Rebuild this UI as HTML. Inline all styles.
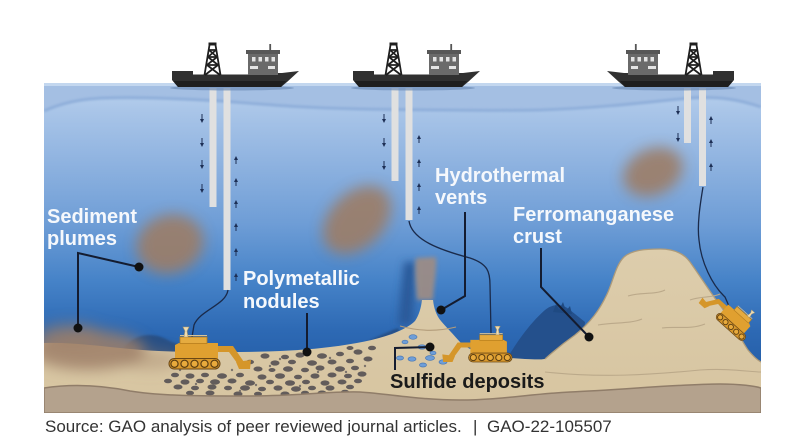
<!DOCTYPE html>
<html><head><meta charset="utf-8"><style>
html,body{margin:0;padding:0;background:#fff;}
svg{display:block;}
</style></head><body>
<svg width="792" height="448" viewBox="0 0 792 448" xmlns="http://www.w3.org/2000/svg">
<defs>
<linearGradient id="wg" gradientUnits="userSpaceOnUse" x1="0" y1="83" x2="0" y2="365">
<stop offset="0" stop-color="#bcd3ee"/>
<stop offset="0.1" stop-color="#a9c5e8"/>
<stop offset="0.28" stop-color="#8fb3e0"/>
<stop offset="0.5" stop-color="#6e9dd6"/>
<stop offset="0.7" stop-color="#4683c8"/>
<stop offset="0.88" stop-color="#2d69b4"/>
<stop offset="1" stop-color="#255fa9"/>
</linearGradient>
<linearGradient id="sg" gradientUnits="userSpaceOnUse" x1="0" y1="250" x2="0" y2="400">
<stop offset="0" stop-color="#ddcdac"/>
<stop offset="1" stop-color="#d7c5a1"/>
</linearGradient>
<filter id="b7" x="-60%" y="-60%" width="220%" height="220%"><feGaussianBlur stdDeviation="7"/></filter>
<filter id="b4" x="-60%" y="-60%" width="220%" height="220%"><feGaussianBlur stdDeviation="4"/></filter>
<filter id="b2" x="-30%" y="-30%" width="160%" height="160%"><feGaussianBlur stdDeviation="2"/></filter>
<filter id="b1" x="-30%" y="-30%" width="160%" height="160%"><feGaussianBlur stdDeviation="1"/></filter>
<clipPath id="pc"><rect x="44" y="80" width="717" height="333"/></clipPath>

<g id="ship">
<ellipse cx="232" cy="88" rx="62" ry="2.5" fill="#6f8fb8" opacity="0.7"/>
<path d="M172,71 L193,71 L193,74.5 L248,74.5 L248,73 L282,73 L299,71 L287,82 L281,87 L178,87 L172,80 Z" fill="#303030"/>
<path d="M173,81 L286,81 L281,87 L178,87 Z" fill="#1e1e1e"/>
<rect x="248" y="53" width="30" height="22" fill="#6a6a6a"/>
<rect x="246" y="50" width="34" height="4" fill="#575757"/>
<rect x="269.3" y="44" width="1.8" height="7" fill="#555"/>
<g fill="#e4e4e4">
<rect x="252" y="57" width="3.5" height="4.5"/><rect x="258.5" y="57" width="3.5" height="4.5"/>
<rect x="265" y="57" width="3.5" height="4.5"/><rect x="271.5" y="57" width="3.5" height="4.5"/>
<rect x="250" y="66" width="8" height="3"/><rect x="268" y="66" width="7" height="3"/>
</g>
<g stroke="#1f1f1f" stroke-width="1.8" fill="none">
<path d="M209.5,45 L204.5,75 M215.5,45 L220.5,75"/>
<path d="M209,50 L216,50 M208,57 L217,57 M207,65 L218,65"/>
<path d="M209,50 L217,57 M216,50 L208,57 M208,57 L218,65 M217,57 L207,65 M207,65 L220,75 M218,65 L205,75"/>
</g>
<rect x="208.5" y="42.5" width="8" height="3" fill="#1f1f1f"/>
</g>

<g id="crawler">
<path d="M46,-23 L64,-23 L77,-4 L71,-2 L60,-17 L46,-17 Z" fill="#d5962a"/>
<path d="M67,-7 L82,-9 L81,0 L70,0 Z" fill="#d5962a"/>
<path d="M6,-10 L6,-24 L10,-26 L49,-26 L49,-10 Z" fill="#e0a030"/>
<rect x="11" y="-32" width="27" height="6.5" fill="#e5ab40" stroke="#b77e1c" stroke-width="0.8"/>
<path d="M11,-33.5 L38,-33.5" stroke="#d8c49a" stroke-width="1"/>
<path d="M14,-42 L20,-42 L18,-38 L19,-32 L15,-32 L16,-38 Z" fill="#ecdcb4" stroke="#b59a66" stroke-width="0.6"/>
<rect x="0" y="-10.5" width="51" height="10.5" rx="5.2" fill="#d8982c" stroke="#6b4816" stroke-width="1"/>
<g fill="#e8aa3c" stroke="#5a3d12" stroke-width="1.2">
<circle cx="5.5" cy="-5.2" r="3.6"/><circle cx="15.5" cy="-5.2" r="3.6"/><circle cx="25.5" cy="-5.2" r="3.6"/>
<circle cx="35.5" cy="-5.2" r="3.6"/><circle cx="45.5" cy="-5.2" r="3.6"/>
</g>
</g>
</defs>

<rect x="0" y="0" width="792" height="448" fill="#fff"/>

<g clip-path="url(#pc)">
<rect x="44" y="83" width="717" height="330" fill="url(#wg)"/>
<path d="M44,83 L761,83 L761,107 C740,100 720,96 690,98 C650,102 600,108 540,110 C480,111 420,110 360,109 C300,108 260,104 220,101 C170,98 120,96 90,99 C70,101 55,106 44,111 Z" fill="#a4bfe3"/>
<path d="M761,107 C740,100 720,96 690,98 C650,102 600,108 540,110 C480,111 420,110 360,109 C300,108 260,104 220,101 C170,98 120,96 90,99 C70,101 55,106 44,111" fill="none" stroke="#8fafda" stroke-width="3" filter="url(#b1)"/>
<rect x="44" y="83" width="717" height="3" fill="#c3d7ef"/>

<g fill="#e0e0e0">
<rect x="209.5" y="88" width="7" height="119"/>
<rect x="223.5" y="88" width="7" height="202"/>
<rect x="391.5" y="88" width="7" height="93"/>
<rect x="405.5" y="88" width="7" height="132"/>
<rect x="684" y="88" width="7" height="55"/>
<rect x="699" y="88" width="7" height="98"/>
</g>

<g fill="#9c7d66" filter="url(#b7)" opacity="0.9">
<ellipse cx="170" cy="244" rx="34" ry="29" transform="rotate(-20 170 244)"/>
<ellipse cx="357" cy="220" rx="40" ry="27" transform="rotate(-45 357 220)"/>
<ellipse cx="653" cy="172" rx="31" ry="23" transform="rotate(-25 653 172)"/>
</g>

<path d="M120,354 C130,335 150,330 168,340 C180,347 200,349 215,350 L215,358 L120,358 Z" fill="#284f86" filter="url(#b1)"/>
<path d="M355,348 C370,340 385,333 398,328 L402,338 L355,350 Z" fill="#284f86" filter="url(#b1)"/>
<path d="M376,345 C382,336 392,332 402,330 L404,345 Z" fill="#2a5592"/>
<path d="M505,362 C515,345 528,325 545,310 C552,304 562,303 570,310 L585,322 L580,365 Z" fill="#24508c"/>
<path d="M553,312 L556,304 L559,310 L563,302 L566,311 L570,306 L572,314 Z" fill="#1f4a82"/>

<path d="M398,325 C400,300 402,280 404,262 L416,262 C415,285 414,305 412,325 Z" fill="#2a5a9a" filter="url(#b4)"/>
<path d="M417,300 C416,285 414,270 416,258 L436,257 C437,270 434,285 433,300 Z" fill="#9b8c86" filter="url(#b2)" opacity="0.95"/>

<path d="M44,343 C70,342 100,346 130,349 C160,352 190,352 220,352 C260,352 300,351 330,347 C355,344 375,340 392,334 C402,330 410,326 415,321 C419,315 421,308 422,300 L433,300 C434,308 436,315 441,321 C447,328 453,334 460,342 C470,352 490,356 510,358 C525,359 538,360 545,359 C555,350 565,342 575,335 C590,323 600,310 608,292 C614,278 616,265 624,257 C632,250 645,249 660,249 C672,249 683,252 690,262 C700,276 710,292 722,308 C732,322 740,338 748,350 C753,356 757,360 761,362 L761,413 L44,413 Z" fill="url(#sg)"/>
<path d="M545,359 C555,350 565,342 575,335 C590,323 600,310 608,292 C614,278 616,265 624,257 C632,250 645,249 660,249 C672,249 683,252 690,262 C700,276 710,292 722,308 C732,322 740,338 748,350 C753,356 757,360 761,362" fill="none" stroke="#ad9b7b" stroke-width="1.3"/>
<g fill="none" stroke="#bba98a" stroke-width="1.1">
<path d="M628,296 C640,292 655,295 665,290"/>
<path d="M690,300 C700,296 712,298 720,294"/>
<path d="M598,325 C615,322 630,324 642,319"/>
<path d="M662,328 C675,326 690,330 705,324"/>
<path d="M545,372 C600,378 650,375 700,370 C730,368 750,372 761,372"/>
<path d="M400,326 Q428,334 456,327" stroke="#b39c7a"/>
</g>

<g fill="#9d7f68" filter="url(#b7)">
<ellipse cx="88" cy="350" rx="58" ry="20" opacity="0.85"/>
<ellipse cx="70" cy="334" rx="32" ry="11" opacity="0.6"/>
<ellipse cx="150" cy="360" rx="30" ry="10" opacity="0.4"/>
</g>

<g fill="#625c5b">
<ellipse cx="265" cy="356" rx="4.5" ry="2.6"/><ellipse cx="285" cy="357" rx="4" ry="2.3"/><ellipse cx="300" cy="355" rx="4.5" ry="2.6"/><ellipse cx="322" cy="356" rx="5" ry="2.7"/><ellipse cx="340" cy="354" rx="4" ry="2.3"/><ellipse cx="358" cy="352" rx="4.5" ry="2.6"/><ellipse cx="372" cy="348" rx="4" ry="2.3"/><ellipse cx="350" cy="348" rx="3.5" ry="2"/>
<ellipse cx="250" cy="362" rx="4" ry="2.3"/><ellipse cx="275" cy="363" rx="4.5" ry="2.6"/><ellipse cx="292" cy="362" rx="4" ry="2.3"/><ellipse cx="312" cy="363" rx="5" ry="2.7"/><ellipse cx="332" cy="362" rx="4.5" ry="2.5"/><ellipse cx="350" cy="361" rx="4" ry="2.3"/><ellipse cx="368" cy="359" rx="4.5" ry="2.5"/>
<ellipse cx="258" cy="369" rx="4.5" ry="2.5"/><ellipse cx="272" cy="370" rx="3.5" ry="2"/><ellipse cx="288" cy="369" rx="5" ry="2.7"/><ellipse cx="305" cy="370" rx="4" ry="2.3"/><ellipse cx="320" cy="368" rx="4.5" ry="2.6"/><ellipse cx="340" cy="369" rx="5" ry="2.7"/><ellipse cx="355" cy="368" rx="4" ry="2.3"/>
<ellipse cx="175" cy="375" rx="4" ry="2.3"/><ellipse cx="190" cy="376" rx="4.5" ry="2.6"/><ellipse cx="205" cy="375" rx="4" ry="2.3"/><ellipse cx="222" cy="376" rx="5" ry="2.7"/><ellipse cx="240" cy="375" rx="4" ry="2.3"/><ellipse cx="262" cy="377" rx="4.5" ry="2.6"/><ellipse cx="280" cy="376" rx="5" ry="2.8"/><ellipse cx="298" cy="377" rx="4" ry="2.3"/><ellipse cx="315" cy="376" rx="4.5" ry="2.6"/><ellipse cx="332" cy="375" rx="4.5" ry="2.5"/><ellipse cx="348" cy="376" rx="4" ry="2.3"/><ellipse cx="362" cy="374" rx="4.5" ry="2.6"/>
<ellipse cx="168" cy="381" rx="4" ry="2.3"/><ellipse cx="185" cy="382" rx="4.5" ry="2.6"/><ellipse cx="200" cy="381" rx="4" ry="2.3"/><ellipse cx="215" cy="382" rx="5" ry="2.7"/><ellipse cx="232" cy="381" rx="4.5" ry="2.5"/><ellipse cx="250" cy="383" rx="5" ry="2.7"/><ellipse cx="270" cy="382" rx="4" ry="2.3"/><ellipse cx="290" cy="383" rx="5" ry="2.8"/><ellipse cx="306" cy="382" rx="4" ry="2.3"/><ellipse cx="325" cy="383" rx="4.5" ry="2.6"/><ellipse cx="342" cy="382" rx="4.5" ry="2.5"/><ellipse cx="358" cy="381" rx="4" ry="2.3"/>
<ellipse cx="178" cy="387" rx="4.5" ry="2.5"/><ellipse cx="195" cy="388" rx="4" ry="2.3"/><ellipse cx="212" cy="387" rx="4.5" ry="2.6"/><ellipse cx="228" cy="388" rx="4" ry="2.3"/><ellipse cx="245" cy="388" rx="5" ry="2.7"/><ellipse cx="262" cy="389" rx="4" ry="2.3"/><ellipse cx="278" cy="388" rx="4.5" ry="2.6"/><ellipse cx="296" cy="389" rx="5" ry="2.7"/><ellipse cx="312" cy="388" rx="4" ry="2.3"/><ellipse cx="330" cy="388" rx="4.5" ry="2.6"/><ellipse cx="350" cy="387" rx="4" ry="2.3"/>
<ellipse cx="190" cy="393" rx="4" ry="2.3"/><ellipse cx="210" cy="393" rx="4.5" ry="2.5"/><ellipse cx="238" cy="394" rx="4.5" ry="2.5"/><ellipse cx="258" cy="394" rx="4" ry="2.3"/><ellipse cx="285" cy="394" rx="4.5" ry="2.5"/><ellipse cx="305" cy="393" rx="4" ry="2.3"/><ellipse cx="322" cy="393" rx="4.5" ry="2.5"/><ellipse cx="345" cy="392" rx="4" ry="2.3"/>
</g>
<g fill="#7d746c">
<circle cx="180" cy="370" r="1.2"/><circle cx="232" cy="370" r="1.2"/><circle cx="280" cy="359" r="1.2"/><circle cx="330" cy="358" r="1.2"/><circle cx="365" cy="366" r="1.2"/><circle cx="196" cy="384" r="1.2"/><circle cx="256" cy="385" r="1.2"/><circle cx="318" cy="372" r="1.2"/><circle cx="300" cy="386" r="1.2"/><circle cx="240" cy="391" r="1.2"/><circle cx="270" cy="366" r="1.2"/><circle cx="346" cy="372" r="1.2"/>
</g>

<g fill="#6e9ed8" stroke="#4a78b4" stroke-width="0.7">
<ellipse cx="413" cy="337" rx="4" ry="2.3"/><ellipse cx="400" cy="358" rx="3.5" ry="2"/><ellipse cx="412" cy="359" rx="4" ry="2.2"/><ellipse cx="430" cy="358" rx="4.5" ry="2.4"/><ellipse cx="433" cy="353" rx="3" ry="1.8"/><ellipse cx="422" cy="347" rx="4" ry="2.2"/><ellipse cx="443" cy="362" rx="4" ry="2.2"/><ellipse cx="423" cy="365" rx="3.5" ry="2"/><ellipse cx="405" cy="342" rx="3" ry="1.8"/>
</g>

<path d="M44,388 C70,384 100,385 130,391 C160,396 200,396 250,396 C300,396 330,391 360,392 C390,394 420,400 460,400 C500,400 530,394 570,392 C620,390 680,384 720,384 C740,384 755,386 761,388 L761,413 L44,413 Z" fill="#b4a28d" stroke="#907d69" stroke-width="1.5"/>

<g fill="none" stroke="#1a2a4a" stroke-width="1.3">
<path d="M228,290 C226,305 200,310 194,325 L192,337"/>
<path d="M409,221 C412,240 440,250 470,258 C488,264 490,272 490,285 L491,333"/>
<path d="M703,187 C700,205 697,225 699,240 C701,262 712,285 725,297 L732,313"/>
</g>

<use href="#crawler" transform="translate(169,369)"/>
<use href="#crawler" transform="translate(512,362) scale(-0.85,0.85)"/>
<use href="#crawler" transform="translate(742,342) rotate(42) scale(-0.72,0.72)"/>

<g fill="#1d2f55" stroke="#1d2f55" stroke-width="1">
<path d="M202,114 L202,120 M202,138 L202,144 M202,160 L202,166 M202,184 L202,190"/>
<path d="M200,119 L204,119 L202,123 Z M200,143 L204,143 L202,147 Z M200,165 L204,165 L202,169 Z M200,189 L204,189 L202,193 Z" stroke="none"/>
<path d="M236,159 L236,164 M236,181 L236,186 M236,203 L236,208 M236,226 L236,231 M236,251 L236,256 M236,276 L236,281"/>
<path d="M234,160 L238,160 L236,156 Z M234,182 L238,182 L236,178 Z M234,204 L238,204 L236,200 Z M234,227 L238,227 L236,223 Z M234,252 L238,252 L236,248 Z M234,277 L238,277 L236,273 Z" stroke="none"/>
<path d="M384,114 L384,120 M384,138 L384,144 M384,161 L384,167"/>
<path d="M382,119 L386,119 L384,123 Z M382,143 L386,143 L384,147 Z M382,166 L386,166 L384,170 Z" stroke="none"/>
<path d="M419,138 L419,143 M419,162 L419,167 M419,186 L419,191 M419,209 L419,214"/>
<path d="M417,139 L421,139 L419,135 Z M417,163 L421,163 L419,159 Z M417,187 L421,187 L419,183 Z M417,210 L421,210 L419,206 Z" stroke="none"/>
<path d="M678,106 L678,112 M678,133 L678,139"/>
<path d="M676,111 L680,111 L678,115 Z M676,138 L680,138 L678,142 Z" stroke="none"/>
<path d="M711,119 L711,124 M711,142 L711,147 M711,166 L711,171"/>
<path d="M709,120 L713,120 L711,116 Z M709,143 L713,143 L711,139 Z M709,167 L713,167 L711,163 Z" stroke="none"/>
</g>

<g fill="none" stroke="#141c30" stroke-width="2">
<path d="M78,328 L78,253 L139,267"/>
<path d="M307,313 L307,352"/>
<path d="M465,212 L465,296 L441,310"/>
<path d="M541,248 L541,287 L589,337"/>
<path d="M395,370 L395,348 L430,347"/>
</g>
<g fill="#111">
<circle cx="139" cy="267" r="4.5"/><circle cx="78" cy="328" r="4.5"/><circle cx="307" cy="352" r="4.5"/>
<circle cx="441" cy="310" r="4.5"/><circle cx="589" cy="337" r="4.5"/><circle cx="430" cy="347" r="4.5"/>
</g>

<g font-family="'Liberation Sans', Arial, sans-serif" font-weight="bold" font-size="20" fill="#f5f8fc">
<text x="47" y="223">Sediment</text>
<text x="47" y="245">plumes</text>
<text x="243" y="285">Polymetallic</text>
<text x="243" y="308">nodules</text>
<text x="435" y="182">Hydrothermal</text>
<text x="435" y="204">vents</text>
<text x="513" y="221">Ferromanganese</text>
<text x="513" y="243">crust</text>
</g>
<text x="390" y="388" font-family="'Liberation Sans', Arial, sans-serif" font-weight="bold" font-size="20" fill="#1a1a1a">Sulfide deposits</text>
</g>

<use href="#ship"/>
<use href="#ship" transform="translate(181,0)"/>
<use href="#ship" transform="translate(906,0) scale(-1,1)"/>

<g font-family="'Liberation Sans', Arial, sans-serif" font-size="17" fill="#333">
<text x="45" y="432">Source: GAO analysis of peer reviewed journal articles.</text>
<text x="473" y="432">|</text>
<text x="487" y="432">GAO-22-105507</text>
</g>
</svg>
</body></html>
